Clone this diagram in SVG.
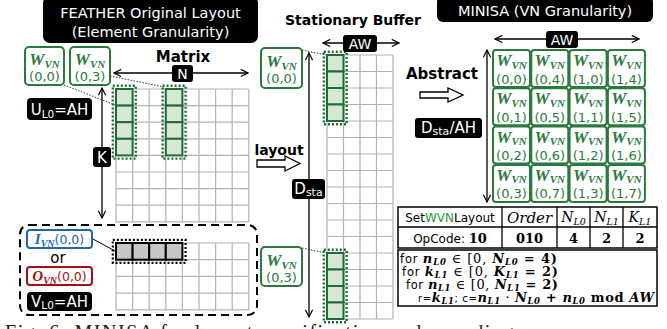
<svg xmlns="http://www.w3.org/2000/svg" width="667" height="329" viewBox="0 0 667 329">
  <style>
    .lbl { font-family: "DejaVu Sans", "Noto Sans", sans-serif; }
    .bold { font-family: "DejaVu Sans", "Noto Sans", sans-serif; font-weight: bold; fill: #000; }
    .tag { fill: #000; }
    .tagtxt { font-family: "DejaVu Sans", "Noto Sans", sans-serif; fill: #fff; }
    .grid { stroke: #b3b3b3; stroke-width: 1.2; fill: none; }
    .gcell { fill: #d5e8d4; stroke: #1e6b37; stroke-width: 2; }
    .gdot { fill: none; stroke: #1e6b37; stroke-width: 2.4; stroke-dasharray: 2 2; }
    .vn { fill: #fff; stroke: #2a7a3e; stroke-width: 2; }
    .vntxt { fill: #2a7a3e; }
    .mi { font-family: "Liberation Serif", "DejaVu Serif", serif; font-style: italic; font-weight: bold; }
    .num { font-family: "DejaVu Sans", "Noto Sans", sans-serif; }
    .arr { stroke: #000; stroke-width: 1.3; fill: none; }
    .lead { stroke: #333; stroke-width: 1; stroke-dasharray: 1.5 1.5; fill: none; }
    .hollow { fill: #fff; stroke: #000; stroke-width: 1.3; }
    .tbl { fill: #fff; stroke: #000; stroke-width: 1.5; }
    .sf { font-family: "Liberation Serif", "DejaVu Serif", serif; }
    .ss { font-family: "DejaVu Sans", "Noto Sans", sans-serif; }
    .cm { font-family: "DejaVu Serif", "Liberation Serif", serif; }
    .cmi { font-family: "DejaVu Serif", "Liberation Serif", serif; font-style: italic; font-weight: bold; }
  </style>
  <defs>
    <marker id="chev" viewBox="0 0 10 10" refX="9" refY="5" markerWidth="9" markerHeight="9" markerUnits="userSpaceOnUse" orient="auto-start-reverse">
      <path d="M1,1 L9,5 L1,9" fill="none" stroke="#000" stroke-width="1.3"/>
    </marker>
  </defs>

  <!-- ===== Left panel: original element layout ===== -->
  <g id="title-feather">
    <rect x="43" y="-4" width="215" height="47" rx="7" class="tag"/>
    <text x="150.5" y="18" font-size="14.5" text-anchor="middle" class="tagtxt">FEATHER Original Layout</text>
    <text x="150.5" y="37" font-size="14.5" text-anchor="middle" class="tagtxt">(Element Granularity)</text>
  </g>

  <g id="wvn-00-left">
    <rect x="25" y="47" width="39" height="38" rx="4" class="vn"/>
    <text x="44.5" y="65" text-anchor="middle" class="vntxt"><tspan class="mi" font-size="17">W</tspan><tspan class="mi" font-size="11" dy="3">VN</tspan></text>
    <text x="44.5" y="81" text-anchor="middle" font-size="13" class="num vntxt">(0,0)</text>
  </g>
  <g id="wvn-03-left">
    <rect x="70" y="47" width="40" height="38" rx="4" class="vn"/>
    <text x="90" y="65" text-anchor="middle" class="vntxt"><tspan class="mi" font-size="17">W</tspan><tspan class="mi" font-size="11" dy="3">VN</tspan></text>
    <text x="90" y="81" text-anchor="middle" font-size="13" class="num vntxt">(0,3)</text>
  </g>

  <text x="183" y="62" font-size="15" text-anchor="middle" class="bold">Matrix</text>

  <g id="matrix">
    <path class="grid" d="M116,89H248.8M116,105.6H248.8M116,122.2H248.8M116,138.8H248.8M116,155.4H248.8M116,172H248.8M116,188.6H248.8M116,205.2H248.8M116,221.8H248.8
      M116,89V221.8M132.6,89V221.8M149.2,89V221.8M165.8,89V221.8M182.4,89V221.8M199,89V221.8M215.6,89V221.8M232.2,89V221.8M248.8,89V221.8"/>
    <rect x="116" y="89" width="16.6" height="16.6" class="gcell"/>
    <rect x="116" y="105.6" width="16.6" height="16.6" class="gcell"/>
    <rect x="116" y="122.2" width="16.6" height="16.6" class="gcell"/>
    <rect x="116" y="138.8" width="16.6" height="16.6" class="gcell"/>
    <rect x="112.8" y="85.8" width="23" height="72.8" class="gdot"/>
    <rect x="165.8" y="89" width="16.6" height="16.6" class="gcell"/>
    <rect x="165.8" y="105.6" width="16.6" height="16.6" class="gcell"/>
    <rect x="165.8" y="122.2" width="16.6" height="16.6" class="gcell"/>
    <rect x="165.8" y="138.8" width="16.6" height="16.6" class="gcell"/>
    <rect x="162.6" y="85.8" width="23" height="72.8" class="gdot"/>
  </g>

  <g id="ul0-tag">
    <rect x="27" y="98" width="65" height="22" rx="4" class="tag"/>
    <text x="59.5" y="115" font-size="15" text-anchor="middle" class="tagtxt">U<tspan font-size="10.5" dy="3">L0</tspan><tspan dy="-3">=AH</tspan></text>
  </g>

  <g id="io-box">
    <rect x="20" y="225" width="237" height="90" rx="9" fill="none" stroke="#000" stroke-width="2" stroke-dasharray="8 5"/>
    <path class="grid" d="M116,243H248.8M116,259.7H248.8M116,276.4H248.8M116,293.1H248.8M116,309.8H248.8
      M116,243V309.8M132.6,243V309.8M149.2,243V309.8M165.8,243V309.8M182.4,243V309.8M199,243V309.8M215.6,243V309.8M232.2,243V309.8M248.8,243V309.8"/>
    <rect x="116" y="243" width="16.6" height="16.7" fill="#c6c6c6" stroke="#000" stroke-width="2"/>
    <rect x="132.6" y="243" width="16.6" height="16.7" fill="#c6c6c6" stroke="#000" stroke-width="2"/>
    <rect x="149.2" y="243" width="16.6" height="16.7" fill="#c6c6c6" stroke="#000" stroke-width="2"/>
    <rect x="165.8" y="243" width="16.6" height="16.7" fill="#c6c6c6" stroke="#000" stroke-width="2"/>
    <rect x="112.8" y="239.8" width="72.8" height="23.1" fill="none" stroke="#000" stroke-width="2.2" stroke-dasharray="2 2"/>
  </g>
  <g id="ivn-00">
    <rect x="27" y="230" width="65" height="18" rx="3" fill="#fff" stroke="#2166ac" stroke-width="2"/>
    <text x="59.5" y="244" text-anchor="middle" fill="#2166ac"><tspan class="mi" font-size="15">I</tspan><tspan class="mi" font-size="10" dy="3">VN</tspan><tspan class="num" font-size="12.5" dy="-3">(0,0)</tspan></text>
  </g>
  <text x="58" y="263" font-size="15" text-anchor="middle" class="lbl">or</text>
  <g id="ovn-00">
    <rect x="27" y="267" width="65" height="18" rx="3" fill="#fff" stroke="#a50f15" stroke-width="2"/>
    <text x="59.5" y="281" text-anchor="middle" fill="#a50f15"><tspan class="mi" font-size="15">O</tspan><tspan class="mi" font-size="10" dy="3">VN</tspan><tspan class="num" font-size="12.5" dy="-3">(0,0)</tspan></text>
  </g>
  <g id="vl0-tag">
    <rect x="27" y="292" width="65" height="19" rx="4" class="tag"/>
    <text x="59.5" y="307" font-size="15" text-anchor="middle" class="tagtxt">V<tspan font-size="10.5" dy="2">L0</tspan><tspan dy="-2">=AH</tspan></text>
  </g>

  <!-- ===== Middle panel: stationary buffer ===== -->
  <text x="353" y="25" font-size="14" text-anchor="middle" class="bold">Stationary Buffer</text>

  <g id="buffer">
    <path class="grid" d="M327,55H393M327,71.5H393M327,88H393M327,104.5H393M327,121H393M327,137.5H393M327,154H393M327,170.5H393M327,187H393M327,203.5H393M327,220H393M327,236.5H393M327,253H393M327,269.5H393M327,286H393M327,302.5H393M327,319H393
      M327,55V319M343.5,55V319M360,55V319M376.5,55V319M393,55V319"/>
    <rect x="327" y="55" width="16.5" height="16.5" class="gcell"/>
    <rect x="327" y="71.5" width="16.5" height="16.5" class="gcell"/>
    <rect x="327" y="88" width="16.5" height="16.5" class="gcell"/>
    <rect x="327" y="104.5" width="16.5" height="16.5" class="gcell"/>
    <rect x="323.8" y="51.8" width="22.9" height="72.4" class="gdot"/>
    <rect x="327" y="253" width="16.5" height="16.5" class="gcell"/>
    <rect x="327" y="269.5" width="16.5" height="16.5" class="gcell"/>
    <rect x="327" y="286" width="16.5" height="16.5" class="gcell"/>
    <rect x="327" y="302.5" width="16.5" height="16.5" class="gcell"/>
    <rect x="323.8" y="249.8" width="22.9" height="72.4" class="gdot"/>
  </g>

  <g id="wvn-00-buf">
    <rect x="261" y="48" width="41" height="40" rx="4" class="vn"/>
    <text x="281.5" y="67" text-anchor="middle" class="vntxt"><tspan class="mi" font-size="17">W</tspan><tspan class="mi" font-size="11" dy="3">VN</tspan></text>
    <text x="281.5" y="83" text-anchor="middle" font-size="13" class="num vntxt">(0,0)</text>
  </g>
  <g id="wvn-03-buf">
    <rect x="261" y="247" width="41" height="39" rx="4" class="vn"/>
    <text x="281.5" y="266" text-anchor="middle" class="vntxt"><tspan class="mi" font-size="17">W</tspan><tspan class="mi" font-size="11" dy="3">VN</tspan></text>
    <text x="281.5" y="282" text-anchor="middle" font-size="13" class="num vntxt">(0,3)</text>
  </g>

  <text x="279" y="155" font-size="14" text-anchor="middle" class="bold">layout</text>

  <!-- ===== Right panel: VN abstraction ===== -->
  <g id="title-minisa">
    <rect x="437" y="-4" width="216" height="26" rx="6" class="tag"/>
    <text x="545" y="16" font-size="14.5" text-anchor="middle" class="tagtxt">MINISA (VN Granularity)</text>
  </g>
  <text x="442" y="79" font-size="15" text-anchor="middle" class="bold">Abstract</text>

  <g id="vn-grid">
    <g id="vn-r0">
      <rect x="493" y="50" width="37" height="37" rx="3" class="vn"/>
      <rect x="531.3" y="50" width="37" height="37" rx="3" class="vn"/>
      <rect x="569.6" y="50" width="37" height="37" rx="3" class="vn"/>
      <rect x="607.9" y="50" width="37" height="37" rx="3" class="vn"/>
    </g>
    <g id="vn-r1">
      <rect x="493" y="88.3" width="37" height="37" rx="3" class="vn"/>
      <rect x="531.3" y="88.3" width="37" height="37" rx="3" class="vn"/>
      <rect x="569.6" y="88.3" width="37" height="37" rx="3" class="vn"/>
      <rect x="607.9" y="88.3" width="37" height="37" rx="3" class="vn"/>
    </g>
    <g id="vn-r2">
      <rect x="493" y="126.6" width="37" height="37" rx="3" class="vn"/>
      <rect x="531.3" y="126.6" width="37" height="37" rx="3" class="vn"/>
      <rect x="569.6" y="126.6" width="37" height="37" rx="3" class="vn"/>
      <rect x="607.9" y="126.6" width="37" height="37" rx="3" class="vn"/>
    </g>
    <g id="vn-r3">
      <rect x="493" y="164.9" width="37" height="37" rx="3" class="vn"/>
      <rect x="531.3" y="164.9" width="37" height="37" rx="3" class="vn"/>
      <rect x="569.6" y="164.9" width="37" height="37" rx="3" class="vn"/>
      <rect x="607.9" y="164.9" width="37" height="37" rx="3" class="vn"/>
    </g>
    <g class="vntxt" text-anchor="middle">
      <text x="511.5" y="66"><tspan class="mi" font-size="17">W</tspan><tspan class="mi" font-size="11" dy="2.5">VN</tspan></text>
      <text x="549.8" y="66"><tspan class="mi" font-size="17">W</tspan><tspan class="mi" font-size="11" dy="2.5">VN</tspan></text>
      <text x="588.1" y="66"><tspan class="mi" font-size="17">W</tspan><tspan class="mi" font-size="11" dy="2.5">VN</tspan></text>
      <text x="626.4" y="66"><tspan class="mi" font-size="17">W</tspan><tspan class="mi" font-size="11" dy="2.5">VN</tspan></text>
      <text x="511.5" y="104.3"><tspan class="mi" font-size="17">W</tspan><tspan class="mi" font-size="11" dy="2.5">VN</tspan></text>
      <text x="549.8" y="104.3"><tspan class="mi" font-size="17">W</tspan><tspan class="mi" font-size="11" dy="2.5">VN</tspan></text>
      <text x="588.1" y="104.3"><tspan class="mi" font-size="17">W</tspan><tspan class="mi" font-size="11" dy="2.5">VN</tspan></text>
      <text x="626.4" y="104.3"><tspan class="mi" font-size="17">W</tspan><tspan class="mi" font-size="11" dy="2.5">VN</tspan></text>
      <text x="511.5" y="142.6"><tspan class="mi" font-size="17">W</tspan><tspan class="mi" font-size="11" dy="2.5">VN</tspan></text>
      <text x="549.8" y="142.6"><tspan class="mi" font-size="17">W</tspan><tspan class="mi" font-size="11" dy="2.5">VN</tspan></text>
      <text x="588.1" y="142.6"><tspan class="mi" font-size="17">W</tspan><tspan class="mi" font-size="11" dy="2.5">VN</tspan></text>
      <text x="626.4" y="142.6"><tspan class="mi" font-size="17">W</tspan><tspan class="mi" font-size="11" dy="2.5">VN</tspan></text>
      <text x="511.5" y="180.9"><tspan class="mi" font-size="17">W</tspan><tspan class="mi" font-size="11" dy="2.5">VN</tspan></text>
      <text x="549.8" y="180.9"><tspan class="mi" font-size="17">W</tspan><tspan class="mi" font-size="11" dy="2.5">VN</tspan></text>
      <text x="588.1" y="180.9"><tspan class="mi" font-size="17">W</tspan><tspan class="mi" font-size="11" dy="2.5">VN</tspan></text>
      <text x="626.4" y="180.9"><tspan class="mi" font-size="17">W</tspan><tspan class="mi" font-size="11" dy="2.5">VN</tspan></text>
    </g>
    <g class="num vntxt" font-size="13" text-anchor="middle">
      <text x="511.5" y="83.5">(0,0)</text><text x="549.8" y="83.5">(0,4)</text><text x="588.1" y="83.5">(1,0)</text><text x="626.4" y="83.5">(1,4)</text>
      <text x="511.5" y="121.8">(0,1)</text><text x="549.8" y="121.8">(0,5)</text><text x="588.1" y="121.8">(1,1)</text><text x="626.4" y="121.8">(1,5)</text>
      <text x="511.5" y="160.1">(0,2)</text><text x="549.8" y="160.1">(0,6)</text><text x="588.1" y="160.1">(1,2)</text><text x="626.4" y="160.1">(1,6)</text>
      <text x="511.5" y="198.4">(0,3)</text><text x="549.8" y="198.4">(0,7)</text><text x="588.1" y="198.4">(1,3)</text><text x="626.4" y="198.4">(1,7)</text>
    </g>
  </g>

  <g id="instr-table">
    <rect x="398" y="207" width="259" height="41" class="tbl"/>
    <path d="M398,227H657M502,207V248M557,207V248M590,207V248M623,207V248" stroke="#000" stroke-width="1.3" fill="none"/>
    <text x="450" y="222" font-size="12" text-anchor="middle" class="ss">Set<tspan fill="#2a9a3a">WVN</tspan>Layout</text>
    <text x="529.5" y="223" font-size="15" text-anchor="middle" class="cm" font-style="italic">Order</text>
    <text x="573.5" y="222" text-anchor="middle" class="cm" font-style="italic"><tspan font-size="14">N</tspan><tspan font-size="9.5" dy="3">L0</tspan></text>
    <text x="606.5" y="222" text-anchor="middle" class="cm" font-style="italic"><tspan font-size="14">N</tspan><tspan font-size="9.5" dy="3">L1</tspan></text>
    <text x="640" y="222" text-anchor="middle" class="cm" font-style="italic"><tspan font-size="14">K</tspan><tspan font-size="9.5" dy="3">L1</tspan></text>
    <text x="450" y="243" text-anchor="middle"><tspan class="ss" font-size="12">OpCode: </tspan><tspan class="cm" font-weight="bold" font-size="13">10</tspan></text>
    <text x="529.5" y="243" font-size="13" text-anchor="middle" class="cm" font-weight="bold">010</text>
    <text x="573.5" y="243" font-size="13" text-anchor="middle" class="cm" font-weight="bold">4</text>
    <text x="606.5" y="243" font-size="13" text-anchor="middle" class="cm" font-weight="bold">2</text>
    <text x="640" y="243" font-size="13" text-anchor="middle" class="cm" font-weight="bold">2</text>
  </g>

  <g id="loop-code">
    <rect x="398" y="250" width="259" height="56" class="tbl"/>
    <text x="400" y="263" textLength="157" lengthAdjust="spacing"><tspan class="ss" font-size="11.5">for </tspan><tspan class="cmi" font-size="13">n</tspan><tspan class="cmi" font-size="8.5" dy="2">L0</tspan><tspan class="cm" font-size="13" dy="-2"> ∈ [0, </tspan><tspan class="cmi" font-size="13">N</tspan><tspan class="cmi" font-size="8.5" dy="2">L0</tspan><tspan class="cm" font-weight="bold" font-size="13" dy="-2"> = 4)</tspan></text>
    <text x="402" y="276" textLength="156" lengthAdjust="spacing"><tspan class="ss" font-size="11.5">for </tspan><tspan class="cmi" font-size="13">k</tspan><tspan class="cmi" font-size="8.5" dy="2">L1</tspan><tspan class="cm" font-size="13" dy="-2"> ∈ [0, </tspan><tspan class="cmi" font-size="13">K</tspan><tspan class="cmi" font-size="8.5" dy="2">L1</tspan><tspan class="cm" font-weight="bold" font-size="13" dy="-2"> = 2)</tspan></text>
    <text x="406" y="289" textLength="152" lengthAdjust="spacing"><tspan class="ss" font-size="11.5">for </tspan><tspan class="cmi" font-size="13">n</tspan><tspan class="cmi" font-size="8.5" dy="2">L1</tspan><tspan class="cm" font-size="13" dy="-2"> ∈ [0, </tspan><tspan class="cmi" font-size="13">N</tspan><tspan class="cmi" font-size="8.5" dy="2">L1</tspan><tspan class="cm" font-weight="bold" font-size="13" dy="-2"> = 2)</tspan></text>
    <text x="418" y="302" textLength="236" lengthAdjust="spacing"><tspan class="ss" font-size="10">r=</tspan><tspan class="cmi" font-size="13">k</tspan><tspan class="cmi" font-size="8.5" dy="2">L1</tspan><tspan class="ss" font-size="10" dy="-2">; c=</tspan><tspan class="cmi" font-size="13">n</tspan><tspan class="cmi" font-size="8.5" dy="2">L1</tspan><tspan class="cm" font-size="13" dy="-2"> · </tspan><tspan class="cmi" font-size="13">N</tspan><tspan class="cmi" font-size="8.5" dy="2">L0</tspan><tspan class="cm" font-weight="bold" font-size="13" dy="-2"> + </tspan><tspan class="cmi" font-size="13">n</tspan><tspan class="cmi" font-size="8.5" dy="2">L0</tspan><tspan class="cm" font-weight="bold" font-size="13" dy="-2"> mod </tspan><tspan class="cmi" font-size="13">AW</tspan></text>
  </g>

  <!-- ===== Connectors: dimension arrows, leader lines, flow arrows ===== -->
  <g id="connectors">
    <line x1="114" y1="73" x2="248" y2="73" class="arr" marker-start="url(#chev)" marker-end="url(#chev)"/>
    <line x1="102" y1="88" x2="102" y2="218" class="arr" marker-start="url(#chev)" marker-end="url(#chev)"/>
    <line x1="323" y1="43" x2="399" y2="43" class="arr" marker-start="url(#chev)" marker-end="url(#chev)"/>
    <line x1="309" y1="53" x2="309" y2="317" class="arr" marker-start="url(#chev)" marker-end="url(#chev)"/>
    <line x1="495" y1="39" x2="639" y2="39" class="arr" marker-start="url(#chev)" marker-end="url(#chev)"/>
    <line x1="487" y1="50" x2="487" y2="202" class="arr" marker-start="url(#chev)" marker-end="url(#chev)"/>

    <path class="lead" d="M64,85L115,105"/>
    <path class="lead" d="M110,76L164,87"/>
    <path class="lead" d="M302,50L326,55"/>
    <path class="lead" d="M302,248L326,253"/>
    <path d="M93,239L115,251" stroke="#000" stroke-width="1" fill="none"/>

    <path class="hollow" d="M257,160H285V156L300,163.5L285,171V167H257Z"/>
    <path class="hollow" d="M420,92H448V88L463,95L448,102V98H420Z"/>
  </g>

  <!-- dimension tags drawn over the arrows -->
  <g id="n-tag"><rect x="172" y="65" width="21" height="17" rx="3" class="tag"/><text x="182.5" y="79" font-size="14" text-anchor="middle" class="tagtxt">N</text></g>
  <g id="k-tag"><rect x="93" y="147" width="18" height="20" rx="3" class="tag"/><text x="102" y="163" font-size="15" text-anchor="middle" class="tagtxt">K</text></g>
  <g id="aw-tag-buf"><rect x="343" y="35" width="34" height="17" rx="3" class="tag"/><text x="360" y="49" font-size="14" text-anchor="middle" class="tagtxt">AW</text></g>
  <g id="dsta-tag"><rect x="292" y="179" width="33" height="20" rx="3" class="tag"/><text x="308.5" y="194" font-size="15" text-anchor="middle" class="tagtxt">D<tspan font-size="11" dy="2">sta</tspan></text></g>
  <g id="aw-tag-vn"><rect x="546" y="31" width="32" height="17" rx="3" class="tag"/><text x="562" y="45" font-size="14" text-anchor="middle" class="tagtxt">AW</text></g>
  <g id="dsta-ah-tag"><rect x="415" y="118" width="67" height="20" rx="3" class="tag"/><text x="448.5" y="133" font-size="15" text-anchor="middle" class="tagtxt">D<tspan font-size="11" dy="2">sta</tspan><tspan dy="-2">/AH</tspan></text></g>

  <text x="5" y="339" font-size="20" class="sf" fill="#222" textLength="515" lengthAdjust="spacing">Fig. 6: MINISA for layout specification and encoding.</text>
</svg>
